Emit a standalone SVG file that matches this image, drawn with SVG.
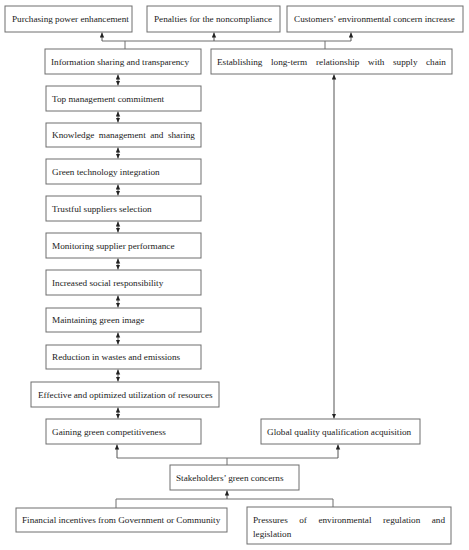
<svg xmlns="http://www.w3.org/2000/svg" width="469" height="550" viewBox="0 0 469 550">
<style>
.box{fill:#fff;stroke:#6e6e6e;stroke-width:1}
.t{font-family:"Liberation Serif","Times New Roman",serif;font-size:9.2px;fill:#222}
.c{fill:none;stroke:#6e6e6e;stroke-width:1}
.a{fill:none;stroke:#555;stroke-width:1;marker-end:url(#ah)}
.d{fill:none;stroke:#555;stroke-width:1;marker-start:url(#ah);marker-end:url(#ah)}
</style>
<defs>
<marker id="ah" markerUnits="userSpaceOnUse" markerWidth="6" markerHeight="6" refX="5" refY="2.2" orient="auto-start-reverse">
<path d="M0,0 L5,2.2 L0,4.4 z" fill="#222"/>
</marker>
</defs>
<rect width="469" height="550" fill="#fff"/>
<g id="connectors">
<path class="c" d="M102,41 H351 M125,41 V49 M325,41 V49"/>
<path class="a" d="M102,41 V32.5"/>
<path class="a" d="M214,41 V32.5"/>
<path class="a" d="M351,41 V32.5"/>
<path class="d" d="M118,74.5 V85.5"/>
<path class="d" d="M118,111.5 V122.5"/>
<path class="d" d="M118,147.5 V158.5"/>
<path class="d" d="M118,184.5 V195.5"/>
<path class="d" d="M118,221.5 V232.5"/>
<path class="d" d="M118,258.5 V269.5"/>
<path class="d" d="M118,295.5 V307.5"/>
<path class="d" d="M118,332.5 V344.5"/>
<path class="d" d="M118,369.5 V381.5"/>
<path class="d" d="M118,407.5 V418.5"/>
<path class="d" d="M334,74.5 V418.5"/>
<path class="c" d="M117,458 H338 M227,458 V465"/>
<path class="a" d="M117,458 V444.5"/>
<path class="a" d="M338,458 V444.5"/>
<path class="c" d="M116,499 H333 M116,499 V508 M333,499 V507"/>
<path class="a" d="M227,499 V490.5"/>
</g>
<g id="n1"><rect class="box" x="5" y="6" width="127" height="26"/><text class="t" x="12" y="22">Purchasing power enhancement</text></g>
<g id="n2"><rect class="box" x="147" y="6" width="133" height="26"/><text class="t" x="154" y="22">Penalties for the noncompliance</text></g>
<g id="n3"><rect class="box" x="287" y="6" width="176" height="26"/><text class="t" x="294" y="22">Customers’ environmental concern increase</text></g>
<g id="n4"><rect class="box" x="45" y="49" width="156" height="25"/><text class="t" x="51" y="64.5">Information sharing and transparency</text></g>
<g id="n5"><rect class="box" x="211" y="49" width="241" height="25"/><text class="t" y="64.5"><tspan x="217">Establishing</tspan><tspan x="271">long-term</tspan><tspan x="316">relationship</tspan><tspan x="368">with</tspan><tspan x="393">supply</tspan><tspan x="426">chain</tspan></text></g>
<g id="n6"><rect class="box" x="46" y="86" width="155" height="25"/><text class="t" x="52" y="101.5">Top management commitment</text></g>
<g id="n7"><rect class="box" x="46" y="123" width="155" height="24"/><text class="t" y="138"><tspan x="52">Knowledge</tspan><tspan x="98.8">management</tspan><tspan x="150.2">and</tspan><tspan x="167.9">sharing</tspan></text></g>
<g id="n8"><rect class="box" x="46" y="159" width="155" height="25"/><text class="t" x="52" y="174.5">Green technology integration</text></g>
<g id="n9"><rect class="box" x="46" y="196" width="155" height="25"/><text class="t" x="52" y="211.5">Trustful suppliers selection</text></g>
<g id="n10"><rect class="box" x="46" y="233" width="155" height="25"/><text class="t" x="52" y="248.5">Monitoring supplier performance</text></g>
<g id="n11"><rect class="box" x="46" y="270" width="155" height="25"/><text class="t" x="52" y="285.5">Increased social responsibility</text></g>
<g id="n12"><rect class="box" x="46" y="308" width="155" height="24"/><text class="t" x="52" y="323">Maintaining green image</text></g>
<g id="n13"><rect class="box" x="46" y="345" width="155" height="24"/><text class="t" x="52" y="360">Reduction in wastes and emissions</text></g>
<g id="n14"><rect class="box" x="31" y="382" width="188" height="25"/><text class="t" x="38" y="397.5">Effective and optimized utilization of resources</text></g>
<g id="n15"><rect class="box" x="46" y="419" width="155" height="25"/><text class="t" x="52" y="434.5">Gaining green competitiveness</text></g>
<g id="n16"><rect class="box" x="261" y="419" width="159" height="25"/><text class="t" x="267" y="434.5">Global quality qualification acquisition</text></g>
<g id="n17"><rect class="box" x="170" y="465" width="129" height="25"/><text class="t" x="176" y="480.5">Stakeholders’ green concerns</text></g>
<g id="n18"><rect class="box" x="16" y="508" width="211" height="24"/><text class="t" x="22" y="523">Financial incentives from Government or Community</text></g>
<g id="n19"><rect class="box" x="247" y="507" width="204" height="37"/><text class="t" y="523"><tspan x="253">Pressures</tspan><tspan x="299.2">of</tspan><tspan x="318.4">environmental</tspan><tspan x="383">regulation</tspan><tspan x="431.8">and</tspan></text><text class="t" x="253" y="537">legislation</text></g>
</svg>
